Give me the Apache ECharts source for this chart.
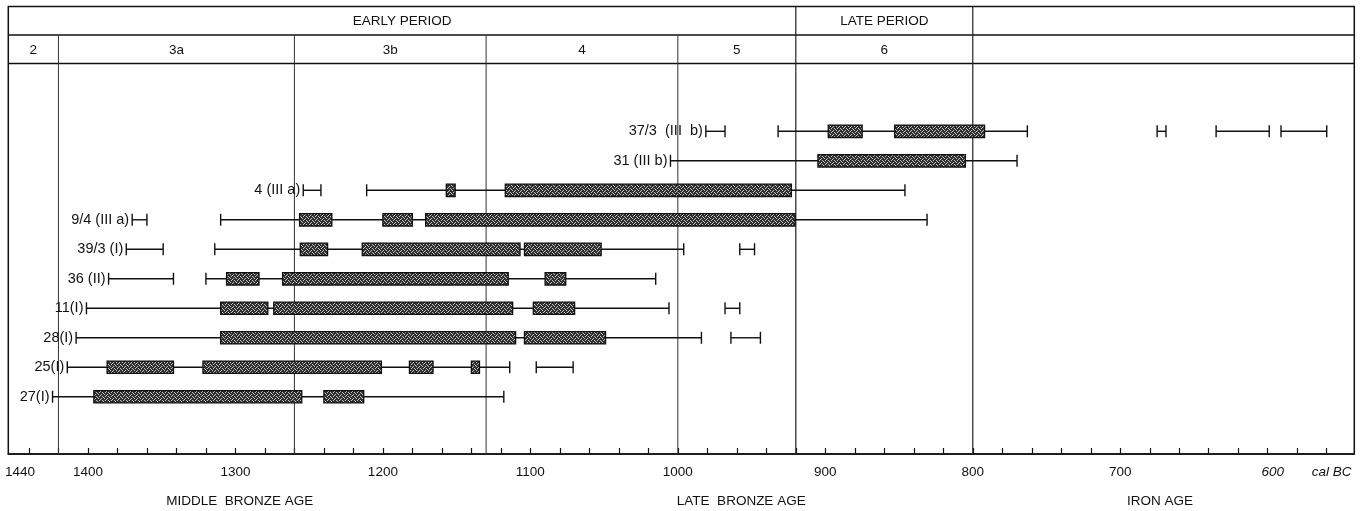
<!DOCTYPE html>
<html>
<head>
<meta charset="utf-8">
<script src="https://cdn.jsdelivr.net/npm/echarts@6/dist/echarts.min.js"></script>
<style>
html, body { margin: 0; padding: 0; background: #fff; }
#chart { width: 1370px; height: 511px; }
</style>
</head>
<body>
<div id="chart"></div>
<script>
// samples, bottom row first (row index = position in this list)
const samples = ['27(I)', '25(I)', '28(I)', '11(I)', '36 (II)', '39/3 (I)', '9/4 (III a)', '4 (III a)', '31 (III b)', '37/3  (III  b)'];

// 2 sigma ranges: [row, from, to] in cal BC
const ranges = [
    [0, 1424, 1118],
    [1, 1414, 1114], [1, 1096, 1071],
    [2, 1408, 984], [2, 964, 944],
    [3, 1401, 1006], [3, 968, 958],
    [4, 1386, 1342], [4, 1320, 1015],
    [5, 1374, 1349], [5, 1314, 996], [5, 958, 948],
    [6, 1370, 1360], [6, 1310, 831],
    [7, 1254, 1242], [7, 1211, 846],
    [8, 1005, 770],
    [9, 981, 968], [9, 932, 763], [9, 675, 669], [9, 635, 599], [9, 591, 560]
];

// 1 sigma ranges (boxes): [row, from, to]
const boxes = [
    [0, 1396, 1255], [0, 1240, 1213],
    [1, 1387, 1342], [1, 1322, 1201], [1, 1182, 1166], [1, 1140, 1134.5],
    [2, 1310, 1110], [2, 1104, 1049],
    [3, 1310, 1278], [3, 1274, 1112], [3, 1098, 1070],
    [4, 1306, 1284], [4, 1268, 1115], [4, 1090, 1076],
    [5, 1256, 1237.5], [5, 1214, 1107], [5, 1104, 1052],
    [6, 1256.5, 1234.6], [6, 1200, 1180], [6, 1171, 920.5],
    [7, 1157, 1151], [7, 1117, 923],
    [8, 905, 805],
    [9, 898, 875], [9, 853, 792]
];

const phaseNames = ['2', '3a', '3b', '4', '5', '6', ''];
const phaseBounds = [1454, 1420, 1260, 1130, 1000, 920, 800, 541.3];
const periodNames = ['EARLY PERIOD', 'LATE PERIOD', ''];
const periodBounds = [1454, 920, 800, 541.3];
const ageNames = ['MIDDLE  BRONZE AGE', 'LATE  BRONZE AGE', 'IRON AGE'];
const ageYears = [1297, 957, 673];

const tickYears = [1440, 1420, 1400, 1380, 1360, 1340, 1320, 1300, 1280, 1260, 1240, 1220, 1200,
    1180, 1160, 1140, 1120, 1100, 1080, 1060, 1040, 1020, 1000, 980, 960, 940, 920, 900, 880, 860,
    840, 820, 800, 780, 760, 740, 720, 700, 680, 660, 640, 620, 600, 580, 560];
const labelYears = [1440, 1400, 1300, 1200, 1100, 1000, 900, 800, 700, 600, 560];

const FONT = '"Liberation Sans", Arial, sans-serif';
const INK = '#111';

// stippled fill for the boxes
let tex = document.createElement('canvas');
tex.width = 6;
tex.height = 4;
let tctx = tex.getContext('2d');
tctx.fillStyle = '#2e2e2e';
tctx.fillRect(0, 0, 6, 4);
tctx.fillStyle = '#c8c8c8';
[[0, 0], [3, 0], [1, 1], [5, 2], [2, 2], [4, 3]].forEach(function (p) {
    tctx.fillRect(p[0], p[1], 1, 1);
});

let rowStart = samples.map(function (s, i) {
    return ranges.filter(r => r[0] === i)[0][1];
});

function renderRange(params, api) {
    let a = api.coord([api.value(1), api.value(0)]);
    let b = api.coord([api.value(2), api.value(0)]);
    let h = 6;
    let st = {stroke: INK, lineWidth: 1.4};
    return {
        type: 'group',
        children: [
            {type: 'line', shape: {x1: a[0], y1: a[1], x2: b[0], y2: b[1]}, style: st},
            {type: 'line', shape: {x1: a[0], y1: a[1] - h, x2: a[0], y2: a[1] + h}, style: st},
            {type: 'line', shape: {x1: b[0], y1: b[1] - h, x2: b[0], y2: b[1] + h}, style: st}
        ]
    };
}

function renderBox(params, api) {
    let a = api.coord([api.value(1), api.value(0)]);
    let b = api.coord([api.value(2), api.value(0)]);
    return {
        type: 'rect',
        shape: {x: a[0], y: a[1] - 6.2, width: b[0] - a[0], height: 12.4},
        style: {fill: {image: tex, repeat: 'repeat'}, stroke: INK, lineWidth: 1.3}
    };
}

function renderLabel(params, api) {
    let a = api.coord([api.value(1), api.value(0)]);
    return {
        type: 'text',
        x: a[0] - 3,
        y: a[1],
        style: {
            text: samples[params.dataIndex],
            fill: INK,
            font: '14.5px ' + FONT,
            align: 'right',
            verticalAlign: 'middle'
        }
    };
}

function renderPeriod(params, api) {
    let cs = params.coordSys;
    let x1 = api.coord([api.value(0), 0])[0];
    let x2 = api.coord([api.value(1), 0])[0];
    let rowH = 28.5;
    let children = [{
        type: 'text',
        x: (x1 + x2) / 2,
        y: cs.y + rowH / 2 + 1,
        style: {text: periodNames[params.dataIndex], fill: INK, font: '13.5px ' + FONT, align: 'center', verticalAlign: 'middle'}
    }];
    if (params.dataIndex > 0) {
        children.push({type: 'line', shape: {x1: x1, y1: cs.y, x2: x1, y2: cs.y + cs.height}, style: {stroke: '#222', lineWidth: 1.2}});
    } else {
        children.push({type: 'line', shape: {x1: cs.x, y1: cs.y + rowH, x2: cs.x + cs.width, y2: cs.y + rowH}, style: {stroke: INK, lineWidth: 1.5}});
        children.push({type: 'line', shape: {x1: cs.x, y1: cs.y + 2 * rowH, x2: cs.x + cs.width, y2: cs.y + 2 * rowH}, style: {stroke: INK, lineWidth: 1.5}});
    }
    return {type: 'group', children: children};
}

function renderPhase(params, api) {
    let cs = params.coordSys;
    let x1 = api.coord([api.value(0), 0])[0];
    let x2 = api.coord([api.value(1), 0])[0];
    let rowH = 28.5;
    let children = [{
        type: 'text',
        x: (x1 + x2) / 2,
        y: cs.y + rowH * 1.5 + 1,
        style: {text: phaseNames[params.dataIndex], fill: INK, font: '13.5px ' + FONT, align: 'center', verticalAlign: 'middle'}
    }];
    if (params.dataIndex > 0 && params.dataIndex < 5) {
        children.push({type: 'line', shape: {x1: x1, y1: cs.y + rowH, x2: x1, y2: cs.y + cs.height}, style: {stroke: '#333', lineWidth: 1}});
    }
    return {type: 'group', children: children};
}

function renderAge(params, api) {
    let cs = params.coordSys;
    let x = api.coord([api.value(0), 0])[0];
    return {
        type: 'text',
        x: x,
        y: cs.y + cs.height + 47,
        style: {text: ageNames[params.dataIndex], fill: INK, font: '13.5px ' + FONT, align: 'center', verticalAlign: 'middle'}
    };
}

let chartDom = document.getElementById('chart');
let myChart = echarts.init(chartDom, null, {renderer: 'canvas'});
let option = {
    animation: false,
    backgroundColor: '#fff',
    grid: {
        left: 8.3,
        right: 15.7,
        top: 6.5,
        bottom: 57,
        show: true,
        borderColor: INK,
        borderWidth: 1.5,
        containLabel: false,
        outerBoundsMode: 'none'
    },
    xAxis: {
        type: 'value',
        inverse: true,
        min: 541.3,
        max: 1454,
        splitLine: {show: false},
        axisLine: {show: true, onZero: false, lineStyle: {color: INK, width: 1.6}},
        axisTick: {show: true, inside: true, length: 6, customValues: tickYears, lineStyle: {color: INK, width: 1.2}},
        axisLabel: {
            customValues: labelYears,
            margin: 11,
            color: INK,
            fontSize: 13.5,
            fontFamily: FONT,
            formatter: function (v) {
                if (v === 560) return '{i|cal BC}';
                if (v === 600) return '{i|600}';
                if (v === 1440) return '{l|1440}';
                return String(v);
            },
            rich: {
                i: {fontStyle: 'italic', fontSize: 13.5, fontFamily: FONT, color: INK, padding: [0, 0, 0, 10]},
                l: {fontSize: 13.5, fontFamily: FONT, color: INK, padding: [0, 18, 0, 0]}
            }
        }
    },
    yAxis: {
        type: 'value',
        min: -1.94,
        max: 13.23,
        show: false,
        splitLine: {show: false}
    },
    series: [
        {
            type: 'custom',
            name: 'periods',
            renderItem: renderPeriod,
            data: periodNames.map((n, i) => [periodBounds[i], periodBounds[i + 1]]),
            silent: true
        },
        {
            type: 'custom',
            name: 'phases',
            renderItem: renderPhase,
            data: phaseNames.map((n, i) => [phaseBounds[i], phaseBounds[i + 1]]),
            silent: true
        },
        {
            type: 'custom',
            name: '2 sigma',
            renderItem: renderRange,
            encode: {x: [1, 2], y: 0},
            data: ranges
        },
        {
            type: 'custom',
            name: '1 sigma',
            renderItem: renderBox,
            encode: {x: [1, 2], y: 0},
            data: boxes
        },
        {
            type: 'custom',
            name: 'samples',
            renderItem: renderLabel,
            encode: {x: 1, y: 0},
            data: samples.map((s, i) => [i, rowStart[i]])
        },
        {
            type: 'custom',
            name: 'ages',
            renderItem: renderAge,
            data: ageYears.map(y => [y]),
            silent: true
        }
    ]
};
option && myChart.setOption(option);
</script>
</body>
</html>
